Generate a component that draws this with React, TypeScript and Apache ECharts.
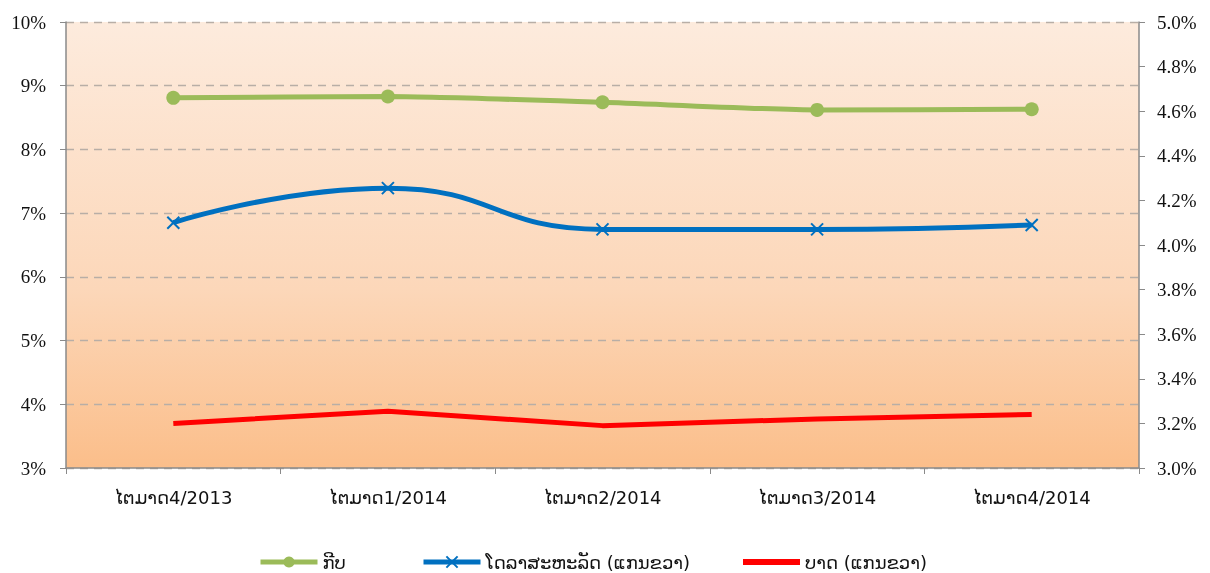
import React, { useEffect, useRef } from "react";
import * as echarts from "echarts";

const categories = ["ໄຕມາດ4/2013", "ໄຕມາດ1/2014", "ໄຕມາດ2/2014", "ໄຕມາດ3/2014", "ໄຕມາດ4/2014"];
const kip = [8.81, 8.83, 8.74, 8.62, 8.63];
const usd = [4.1, 4.255, 4.07, 4.07, 4.09];
const baht = [3.2, 3.255, 3.19, 3.22, 3.24];
const seriesNames = ["ກີບ", "ໂດລາສະຫະລັດ (ແກນຂວາ)", "ບາດ (ແກນຂວາ)"];
const legendLefts = [258, 421, 743];

export default function App() {
  const ref = useRef<HTMLDivElement>(null);
  useEffect(() => {
    const chart = echarts.init(ref.current!, null, { renderer: "svg" });
    const serif = "Liberation Serif, Times New Roman, serif";
    const sans = "DejaVu Sans, Noto Sans, sans-serif";
    const axisFont = { fontFamily: serif, fontSize: 19, color: "#111" };
    const legends = seriesNames.map((name, i) => ({
      top: 553,
      left: legendLefts[i],
      itemWidth: 57,
      itemHeight: 14,
      itemGap: 4,
      padding: 0,
      textStyle: { fontSize: 18, color: "#111", fontFamily: sans },
      lineStyle: { width: 5 },
      data: [i === 2 ? { name, icon: "path://M0,0L57,0L57,6L0,6Z" } : { name }],
    }));
    chart.setOption({
      animation: false,
      grid: {
        left: 66,
        right: 71,
        top: 22,
        bottom: 105,
        show: true,
        borderWidth: 0,
        backgroundColor: new echarts.graphic.LinearGradient(0, 0, 0, 1, [
          { offset: 0, color: "#FDEBDD" },
          { offset: 0.6, color: "#FCD7B9" },
          { offset: 1, color: "#FBBE8A" },
        ]),
      },
      legend: legends,
      xAxis: {
        type: "category",
        data: categories,
        boundaryGap: true,
        axisLine: { lineStyle: { color: "#8a8a8a", width: 1.5 } },
        axisTick: { show: true, length: 6, lineStyle: { color: "#8a8a8a" } },
        axisLabel: { margin: 20, fontSize: 18, color: "#111", fontFamily: sans },
      },
      yAxis: [
        {
          type: "value",
          min: 3,
          max: 10,
          interval: 1,
          axisLine: { show: true, lineStyle: { color: "#8a8a8a", width: 1.5 } },
          axisTick: { show: true, length: 6, lineStyle: { color: "#8a8a8a" } },
          axisLabel: { ...axisFont, margin: 20, formatter: (v: number) => `${v}%` },
          splitLine: { show: true, lineStyle: { color: "#b8aea6", type: [8, 6], width: 1.3 } },
        },
        {
          type: "value",
          min: 3,
          max: 5,
          interval: 0.2,
          position: "right",
          axisLine: { show: true, lineStyle: { color: "#8a8a8a", width: 1.5 } },
          axisTick: { show: true, length: 6, lineStyle: { color: "#8a8a8a" } },
          axisLabel: { ...axisFont, margin: 18, formatter: (v: number) => `${v.toFixed(1)}%` },
          splitLine: { show: false },
        },
      ],
      series: [
        {
          name: seriesNames[0],
          type: "line",
          yAxisIndex: 0,
          data: kip,
          smooth: 0.2,
          symbol: "circle",
          symbolSize: 14,
          lineStyle: { color: "#9BBB59", width: 5 },
          itemStyle: { color: "#9BBB59" },
        },
        {
          name: seriesNames[1],
          type: "line",
          yAxisIndex: 1,
          data: usd,
          smooth: 0.5,
          symbol: "path://M0,0L10,10M10,0L0,10",
          symbolSize: 12,
          lineStyle: { color: "#0070C0", width: 5 },
          itemStyle: { color: "none", borderColor: "#0070C0", borderWidth: 2 },
        },
        {
          name: seriesNames[2],
          type: "line",
          yAxisIndex: 1,
          data: baht,
          smooth: false,
          symbol: "none",
          lineStyle: { color: "#FF0000", width: 5 },
          itemStyle: { color: "#FF0000" },
        },
      ],
    });
    return () => chart.dispose();
  }, []);
  return <div ref={ref} style={{ position: "fixed", left: 0, top: 0, width: 1210, height: 573 }} />;
}
